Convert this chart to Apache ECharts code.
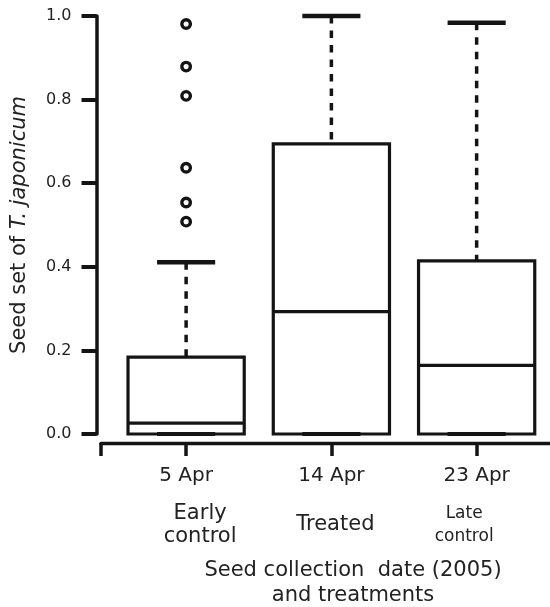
<!DOCTYPE html>
<html>
<head>
<meta charset="utf-8">
<script src="https://cdn.jsdelivr.net/npm/echarts@6/dist/echarts.min.js"></script>
<style>
  html, body { margin: 0; padding: 0; background: #fff; }
  #chart { width: 550px; height: 607px; }
</style>
</head>
<body>
<div id="chart"></div>
<script>
const dates = ["5 Apr", "14 Apr", "23 Apr"]
const treatments = [["Early", "control"], ["Treated"], ["Late", "control"]]
const positions = [1, 2, 3]

// five-number summary per collection date
const whiskerLow = [0, 0, 0]
const q1 = [0, 0, 0]
const median = [0.026, 0.293, 0.164]
const q3 = [0.184, 0.694, 0.414]
const whiskerHigh = [0.411, 1.0, 0.984]

// outliers of the early control
const outlierPos = [1, 1, 1, 1, 1, 1]
const outlierValues = [0.981, 0.879, 0.809, 0.637, 0.554, 0.508]

const ink = "#141414"
const font = "DejaVu Sans"

const chart = echarts.init(document.getElementById("chart"))

const boxData = positions.map((p, i) => [p, whiskerLow[i], q1[i], median[i], q3[i], whiskerHigh[i]])
const outlierData = outlierPos.map((p, i) => [p, outlierValues[i]])

// rich style for the treatment line under each date
const treatStyle = ["t1", "t2", "t3"]

const options = {
  animation: false,
  grid: {
    left: 101,
    right: 0,
    top: 16,
    bottom: 173,
    outerBoundsMode: "none",
    containLabel: false
  },
  xAxis: {
    type: "value",
    min: 0.414,
    max: 3.505,
    offset: 9,
    axisLine: { show: true, onZero: false, lineStyle: { color: ink, width: 3.3 } },
    axisTick: {
      show: true,
      length: 13,
      customValues: [0.414, 1, 2, 3],
      lineStyle: { color: ink, width: 3.5 }
    },
    splitLine: { show: false },
    axisLabel: {
      customValues: positions,
      margin: 7,
      color: "#222",
      fontFamily: font,
      formatter: function (v) {
        const i = positions.indexOf(Math.round(v))
        if (i < 0) return ""
        const s = treatStyle[i]
        return "{d|" + dates[i] + "}\n" + treatments[i].map((t) => "{" + s + "|" + t + "}").join("\n")
      },
      rich: {
        d: { fontSize: 20, lineHeight: 52, fontFamily: font, color: "#222" },
        t1: { fontSize: 21, lineHeight: 23, fontFamily: font, color: "#222", padding: [0, 0, 0, 28] },
        t2: { fontSize: 21, lineHeight: 46, fontFamily: font, color: "#222", padding: [0, 0, 0, 8] },
        t3: { fontSize: 17, lineHeight: 23, fontFamily: font, color: "#222", padding: [0, 25, 0, 0] }
      }
    },
    name: "Seed collection  date (2005)\nand treatments",
    nameLocation: "middle",
    nameGap: 115,
    nameTextStyle: {
      fontSize: 21,
      lineHeight: 25,
      fontFamily: font,
      color: "#222",
      padding: [0, 0, 0, 55]
    }
  },
  yAxis: {
    type: "value",
    min: 0,
    max: 1,
    interval: 0.2,
    offset: 4.5,
    axisLine: { show: true, onZero: false, lineStyle: { color: ink, width: 3.5 } },
    axisTick: { show: true, length: 15, lineStyle: { color: ink, width: 4 } },
    splitLine: { show: false },
    axisLabel: {
      margin: 25,
      fontSize: 16,
      fontFamily: font,
      color: "#222",
      formatter: (v) => v.toFixed(1)
    },
    name: "Seed set of {i|T. japonicum}",
    nameLocation: "middle",
    nameGap: 66,
    nameTextStyle: {
      fontSize: 21,
      fontFamily: font,
      color: "#222",
      rich: {
        i: { fontSize: 21, fontFamily: font, fontStyle: "italic", color: "#222" }
      }
    }
  },
  series: [
    {
      name: "Seed set",
      type: "custom",
      data: boxData,
      encode: { x: 0, y: [1, 2, 3, 4, 5] },
      renderItem: function (params, api) {
        const x = api.value(0)
        const bw = api.size([1, 0])[0] * 0.8
        const lo = api.coord([x, api.value(1)])
        const bot = api.coord([x, api.value(2)])
        const med = api.coord([x, api.value(3)])
        const top = api.coord([x, api.value(4)])
        const hi = api.coord([x, api.value(5)])
        const cx = top[0]
        return {
          type: "group",
          children: [
            {
              type: "line",
              shape: { x1: cx, y1: hi[1], x2: cx, y2: top[1] },
              style: { stroke: ink, lineWidth: 3.5, lineDash: [7.5, 7] }
            },
            {
              type: "line",
              shape: { x1: cx - bw / 4, y1: hi[1], x2: cx + bw / 4, y2: hi[1] },
              style: { stroke: ink, lineWidth: 4.5 }
            },
            {
              type: "rect",
              shape: { x: cx - bw / 2, y: top[1], width: bw, height: bot[1] - top[1] },
              style: { fill: "#fff", stroke: ink, lineWidth: 3.2 }
            },
            {
              type: "line",
              shape: { x1: cx - bw / 2, y1: med[1], x2: cx + bw / 2, y2: med[1] },
              style: { stroke: ink, lineWidth: 3.2 }
            },
            {
              type: "line",
              shape: { x1: cx - bw / 4, y1: lo[1], x2: cx + bw / 4, y2: lo[1] },
              style: { stroke: ink, lineWidth: 4.2 }
            }
          ]
        }
      }
    },
    {
      name: "Outliers",
      type: "scatter",
      data: outlierData,
      symbol: "circle",
      symbolSize: 8.5,
      itemStyle: { color: "#fff", borderColor: ink, borderWidth: 3.4, opacity: 1 }
    }
  ]
}

chart.setOption(options)
</script>
</body>
</html>
